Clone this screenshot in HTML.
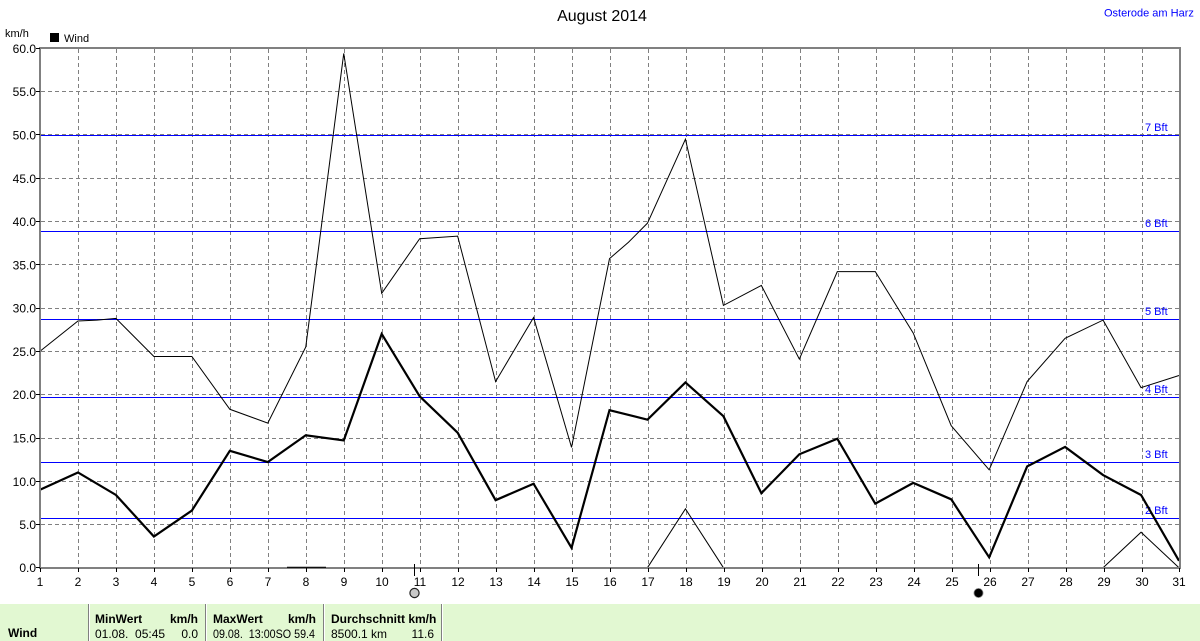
<!DOCTYPE html>
<html><head><meta charset="utf-8">
<style>
html,body{margin:0;padding:0;background:#fff;}
svg{display:block;}
text{font-family:"Liberation Sans",Arial,sans-serif;}
</style></head>
<body>
<svg width="1200" height="641" viewBox="0 0 1200 641" xmlns="http://www.w3.org/2000/svg">
<rect width="1200" height="641" fill="#fff"/>
<text x="602" y="21" font-size="16" text-anchor="middle" fill="#000">August 2014</text>
<text x="1104" y="16.5" font-size="11" fill="#0000ff">Osterode am Harz</text>
<text x="5" y="37" font-size="11" fill="#000">km/h</text>
<rect x="50" y="33" width="9" height="9" fill="#000"/>
<text x="64" y="42" font-size="11" fill="#000">Wind</text>

<!-- grid -->
<g stroke="#808080" stroke-width="1" stroke-dasharray="4 3" fill="none">
<path d="M78.5 49V567M116.5 49V567M154.5 49V567M192.5 49V567M230.5 49V567M268.5 49V567M306.5 49V567M344.5 49V567M382.5 49V567M420.5 49V567M458.5 49V567M496.5 49V567M534.5 49V567M572.5 49V567M610.5 49V567M648.5 49V567M686.5 49V567M724.5 49V567M762.5 49V567M800.5 49V567M838.5 49V567M876.5 49V567M914.5 49V567M952.5 49V567M990.5 49V567M1028.5 49V567M1066.5 49V567M1104.5 49V567M1142.5 49V567"/>
<path d="M41 524.5H1179M41 481.5H1179M41 438.5H1179M41 394.5H1179M41 351.5H1179M41 308.5H1179M41 264.5H1179M41 221.5H1179M41 178.5H1179M41 134.5H1179M41 91.5H1179"/>
</g>

<!-- Bft lines -->
<g stroke="#0000ff" stroke-width="1" shape-rendering="crispEdges">
<path d="M41 135.5H1179M41 231.5H1179M41 319.5H1179M41 397.5H1179M41 462.5H1179M41 518.5H1179"/>
</g>
<g font-size="11" fill="#0000ff">
<text x="1145" y="131">7 Bft</text>
<text x="1145" y="227">6 Bft</text>
<text x="1145" y="315">5 Bft</text>
<text x="1145" y="393">4 Bft</text>
<text x="1145" y="458">3 Bft</text>
<text x="1145" y="514">2 Bft</text>
</g>

<!-- data -->
<g transform="translate(40 567.7) scale(37.967 -8.657)" fill="none" stroke="#000" stroke-linejoin="miter">
<polyline vector-effect="non-scaling-stroke" stroke-width="1" points="0,25 1,28.5 1.5,28.6 2,28.8 3,24.4 4,24.4 5,18.3 6,16.7 7,25.5 8,59.4 9,31.7 10,38 11,38.3 12,21.5 13,28.9 14,13.9 15,35.7 15.5,37.6 16,39.8 17,49.5 18,30.3 19,32.6 20,24.1 21,34.2 22,34.2 23,27.1 24,16.4 25,11.3 26,21.5 27,26.5 28,28.6 29,20.8 30,22.2"/>
<polyline vector-effect="non-scaling-stroke" stroke-width="2.2" points="0,9 1,11 2,8.4 3,3.6 4,6.6 5,13.5 6,12.2 7,15.3 8,14.7 9,27 10,19.8 11,15.6 12,7.8 13,9.7 14,2.3 15,18.2 16,17.1 17,21.4 18,17.5 19,8.6 20,13.1 21,14.9 22,7.4 23,9.8 24,7.9 25,1.2 26,11.7 27,13.95 28,10.7 29,8.4 30,0.8"/>
<polyline vector-effect="non-scaling-stroke" stroke-width="1" points="16,0 17,6.8 18,0"/>
<polyline vector-effect="non-scaling-stroke" stroke-width="1" points="28,0 29,4.1 30,0"/>
</g>

<!-- axes -->
<g stroke="#808080" stroke-width="2" fill="none">
<path d="M40 47V569M39 48H1181M1180 47V569M39 568H1181"/>
</g>
<line x1="287" y1="567.3" x2="326" y2="567.3" stroke="#000" stroke-width="1.2"/>
<g stroke="#000" stroke-width="1">
<path d="M36 48.5H40M36 91.5H40M36 134.5H40M36 178.5H40M36 221.5H40M36 264.5H40M36 308.5H40M36 351.5H40M36 394.5H40M36 438.5H40M36 481.5H40M36 524.5H40M36 567.5H40"/>
<path d="M40.5 568V572M78.5 568V572M116.5 568V572M154.5 568V572M192.5 568V572M230.5 568V572M268.5 568V572M306.5 568V572M344.5 568V572M382.5 568V572M420.5 568V572M458.5 568V572M496.5 568V572M534.5 568V572M572.5 568V572M610.5 568V572M648.5 568V572M686.5 568V572M724.5 568V572M762.5 568V572M800.5 568V572M838.5 568V572M876.5 568V572M914.5 568V572M952.5 568V572M990.5 568V572M1028.5 568V572M1066.5 568V572M1104.5 568V572M1142.5 568V572M1179.5 568V572"/>
<path d="M414.5 564V576M978.5 564V576"/>
</g>

<!-- y labels -->
<g font-size="12" text-anchor="end" fill="#000">
<text x="36" y="53">60.0</text>
<text x="36" y="96">55.0</text>
<text x="36" y="139.5">50.0</text>
<text x="36" y="183">45.0</text>
<text x="36" y="226">40.0</text>
<text x="36" y="269.5">35.0</text>
<text x="36" y="312.5">30.0</text>
<text x="36" y="356">25.0</text>
<text x="36" y="399">20.0</text>
<text x="36" y="442.5">15.0</text>
<text x="36" y="486">10.0</text>
<text x="36" y="529">5.0</text>
<text x="36" y="572">0.0</text>
</g>
<!-- x labels -->
<g font-size="12" text-anchor="middle" fill="#000">
<text x="40" y="586">1</text><text x="78" y="586">2</text><text x="116" y="586">3</text><text x="154" y="586">4</text><text x="192" y="586">5</text><text x="230" y="586">6</text><text x="268" y="586">7</text><text x="306" y="586">8</text><text x="344" y="586">9</text><text x="382" y="586">10</text><text x="420" y="586">11</text><text x="458" y="586">12</text><text x="496" y="586">13</text><text x="534" y="586">14</text><text x="572" y="586">15</text><text x="610" y="586">16</text><text x="648" y="586">17</text><text x="686" y="586">18</text><text x="724" y="586">19</text><text x="762" y="586">20</text><text x="800" y="586">21</text><text x="838" y="586">22</text><text x="876" y="586">23</text><text x="914" y="586">24</text><text x="952" y="586">25</text><text x="990" y="586">26</text><text x="1028" y="586">27</text><text x="1066" y="586">28</text><text x="1104" y="586">29</text><text x="1142" y="586">30</text><text x="1179" y="586">31</text>
</g>
<!-- moons -->
<circle cx="414.5" cy="593" r="4.6" fill="#c8c8c8" stroke="#202020" stroke-width="1.2"/>
<circle cx="978.5" cy="593" r="4.6" fill="#000" stroke="#999" stroke-width="0.8"/>

<!-- footer -->
<rect x="0" y="604" width="1200" height="37" fill="#e2f8d2"/>
<g stroke="#808080" stroke-width="1">
<path d="M88.5 604V641M205.5 604V641M323.5 604V641M441.5 604V641"/>
</g>
<g stroke="#ffffff" stroke-width="1">
<path d="M89.5 604V641M206.5 604V641M324.5 604V641M442.5 604V641"/>
</g>
<g font-size="12" fill="#000">
<text x="8" y="637" font-weight="bold">Wind</text>
<text x="95" y="623" font-weight="bold">MinWert</text>
<text x="198" y="623" font-weight="bold" text-anchor="end">km/h</text>
<text x="95" y="638" xml:space="preserve">01.08.  05:45</text>
<text x="198" y="638" text-anchor="end">0.0</text>
<text x="213" y="623" font-weight="bold">MaxWert</text>
<text x="316" y="623" font-weight="bold" text-anchor="end">km/h</text>
<text x="213" y="638" font-size="11.5" textLength="102" lengthAdjust="spacingAndGlyphs" xml:space="preserve">09.08.  13:00SO 59.4</text>
<text x="331" y="623" font-weight="bold">Durchschnitt km/h</text>
<text x="331" y="638">8500.1 km</text>
<text x="434" y="638" text-anchor="end">11.6</text>
</g>
</svg>
</body></html>
